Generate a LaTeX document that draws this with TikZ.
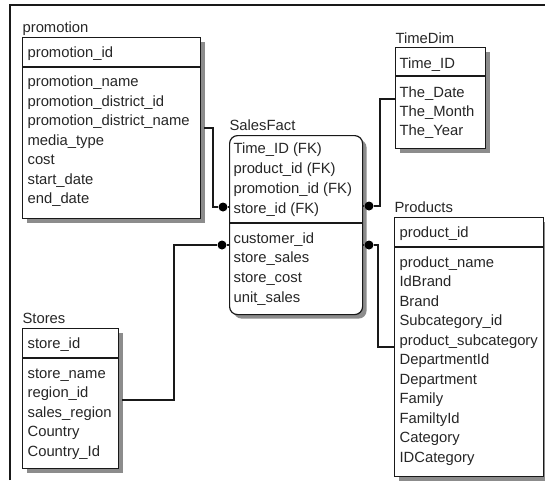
\documentclass[tikz,border=0pt]{standalone}
\usepackage{fontspec}
\setmainfont{Liberation Sans}
\usetikzlibrary{shadows}

\def\rowsep{19.5}

\begin{document}
\begin{tikzpicture}[x=1pt,y=-1pt,line width=1.2pt,draw=black!90,text=black!85,
        font=\fontsize{14.8}{18}\selectfont]
    \tikzstyle{table}=[draw,fill=white,inner sep=0pt,anchor=north west,
        drop shadow={shadow xshift=4pt,shadow yshift=-4pt,fill=black!45,opacity=1}]
    \tikzstyle{fact table}=[table,rounded corners=8pt]
    \tikzstyle{field}=[inner sep=0pt,anchor=base west]
    \tikzstyle{fk dot}=[circle,fill=black,inner sep=0pt,minimum size=9pt]
    \tikzstyle{link}=[line width=1.2pt]

    \useasboundingbox (0,0) rectangle (545,480);
    \draw[line width=1.6pt] (10,480) -- (10,5) -- (545,5);

    % Draw the promotion table.
    \node[field] (promotion-title) at (22,32) {promotion};
    \node[table,minimum width=178pt,minimum height=181pt] (promotion) at (22,37) {};
    \draw ([yshift=-30pt]promotion.north west) -- ([yshift=-30pt]promotion.north east);
    \node[field] (promotion-key) at (27,57) {promotion\_id};
    \foreach \name [count=\i] in {promotion\_name,promotion\_district\_id,
            promotion\_district\_name,media\_type,cost,start\_date,end\_date}
        \node[field] (promotion-\i) at (27,67+\rowsep*\i) {\name};

    % Draw the fact table.
    \node[field] (salesfact-title) at (229,130) {SalesFact};
    \node[fact table,minimum width=133pt,minimum height=179pt] (salesfact) at (229,135) {};
    \draw ([yshift=-88pt]salesfact.north west) -- ([yshift=-88pt]salesfact.north east);
    \foreach \name [count=\i] in {Time\_ID (FK),product\_id (FK),promotion\_id (FK),store\_id (FK)}
        \node[field] (salesfact-key-\i) at (233,133+20*\i) {\name};
    \foreach \name [count=\i] in {customer\_id,store\_sales,store\_cost,unit\_sales}
        \node[field] (salesfact-\i) at (233,223.3+19.7*\i) {\name};

    % Draw the time table.
    \node[field] (timedim-title) at (395,43) {TimeDim};
    \node[table,minimum width=90pt,minimum height=101pt] (timedim) at (395,47) {};
    \draw ([yshift=-29pt]timedim.north west) -- ([yshift=-29pt]timedim.north east);
    \node[field] (timedim-key) at (399,68) {Time\_ID};
    \foreach \name [count=\i] in {The\_Date,The\_Month,The\_Year}
        \node[field] (timedim-\i) at (399,78+19*\i) {\name};

    % Draw the products table.
    \node[field] (products-title) at (394,212) {Products};
    \node[table,minimum width=149pt,minimum height=259pt] (products) at (394,217) {};
    \draw ([yshift=-30pt]products.north west) -- ([yshift=-30pt]products.north east);
    \node[field] (products-key) at (399,237) {product\_id};
    \foreach \name [count=\i] in {product\_name,IdBrand,Brand,Subcategory\_id,
            product\_subcategory,DepartmentId,Department,Family,FamiltyId,Category,IDCategory}
        \node[field] (products-\i) at (399,247.5+\rowsep*\i) {\name};

    % Draw the stores table.
    \node[field] (stores-title) at (22,323) {Stores};
    \node[table,minimum width=96pt,minimum height=140pt] (stores) at (22,328) {};
    \draw ([yshift=-30pt]stores.north west) -- ([yshift=-30pt]stores.north east);
    \node[field] (stores-key) at (27,348) {store\_id};
    \foreach \name [count=\i] in {store\_name,region\_id,sales\_region,Country,Country\_Id}
        \node[field] (stores-\i) at (27,358.5+\rowsep*\i) {\name};

    % Connect the dimension tables with the fact table.
    \node[fk dot] (promotion-dot) at (223,207) {};
    \node[fk dot] (stores-dot) at (222,245) {};
    \node[fk dot] (timedim-dot) at (369,206) {};
    \node[fk dot] (products-dot) at (369,245) {};
    \coordinate (promotion-link) at (204,128);
    \coordinate (stores-link) at (122,400);
    \coordinate (timedim-link) at (395,99);
    \coordinate (products-link) at (394,347);

    \draw[link] (promotion-link) -- ++(9,0) |- (promotion-dot) -- (promotion-dot -| salesfact.west);
    \draw[link] (stores-link) -- ++(52,0) |- (stores-dot) -- (stores-dot -| salesfact.west);
    \draw[link] (timedim-link) -- ++(-15,0) |- (timedim-dot) -- (timedim-dot -| salesfact.east);
    \draw[link] (products-link) -- ++(-16,0) |- (products-dot) -- (products-dot -| salesfact.east);
\end{tikzpicture}
\end{document}
